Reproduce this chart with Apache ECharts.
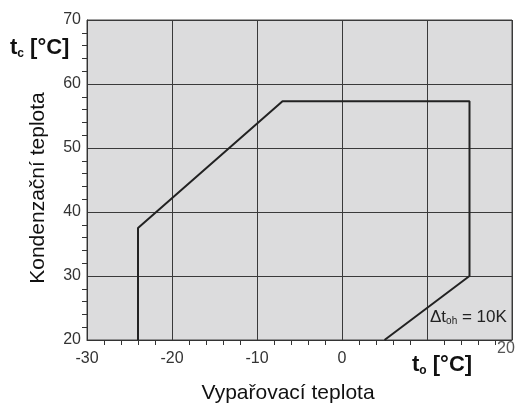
<!DOCTYPE html>
<html><head><meta charset="utf-8">
<script src="https://cdn.jsdelivr.net/npm/echarts@6/dist/echarts.min.js"></script>
<style>html,body{margin:0;padding:0;background:#fff}#c{width:521px;height:404px}</style>
</head><body><div id="c"></div>
<script>
// Envelope polygon (evaporating temp t_o, condensing temp t_c)
const envelopeTo = [-24, -24, -7, 15, 15, 5];
const envelopeTc = [20, 37.5, 57.3, 57.3, 30, 20];
const xTicks = [-30, -20, -10, 0, 10, 20];
const yTicks = [20, 30, 40, 50, 60, 70];
const xTitle = 'Vypařovací teplota';
const yTitle = 'Kondenzační teplota';

const chart = echarts.init(document.getElementById('c'));
const font = 'Liberation Sans, Arial, sans-serif';
const xMax = xTicks[xTicks.length - 1];
chart.setOption({
  animation: false,
  backgroundColor: '#fff',
  grid: {left: 87, right: 9, top: 20, bottom: 64, show: true, backgroundColor: '#dcdcdd', borderColor: '#444', borderWidth: 1},
  xAxis: {
    type: 'value', min: xTicks[0], max: xMax, interval: 10,
    axisLine: {show: true, onZero: false, lineStyle: {color: '#333'}},
    axisTick: {show: false},
    minorTick: {show: true, splitNumber: 5, length: 5, lineStyle: {color: '#333'}},
    axisLabel: {color: '#333', fontSize: 16, fontFamily: font, margin: 11, showMaxLabel: false,
      formatter: v => (v === 10 ? '' : String(v))},
    splitLine: {show: true, lineStyle: {color: '#3a3a3a', width: 1}}
  },
  yAxis: {
    type: 'value', min: yTicks[0], max: yTicks[yTicks.length - 1], interval: 10,
    axisLine: {show: true, onZero: false, lineStyle: {color: '#333'}},
    axisTick: {show: false},
    minorTick: {show: true, splitNumber: 5, length: 5, lineStyle: {color: '#333'}},
    axisLabel: {color: '#333', fontSize: 16, fontFamily: font, margin: 6, padding: [4, 0, 0, 0]},
    splitLine: {show: true, lineStyle: {color: '#3a3a3a', width: 1}}
  },
  series: [{
    type: 'line', symbol: 'none',
    data: envelopeTo.map((v, i) => [v, envelopeTc[i]]),
    lineStyle: {color: '#222', width: 2}
  }],
  graphic: [
    {type: 'text', x: 288, y: 393, style: {text: xTitle, fill: '#111', font: '21px ' + font, textAlign: 'center', textVerticalAlign: 'middle'}},
    {type: 'text', x: 38, y: 188, rotation: Math.PI / 2, style: {text: yTitle, fill: '#111', font: '21px ' + font, textAlign: 'center', textVerticalAlign: 'middle'}},
    {type: 'text', x: 506, y: 349, style: {text: String(xMax), fill: '#555', font: '16px ' + font, textAlign: 'center', textVerticalAlign: 'middle'}},
    {type: 'text', left: 10, top: 37, style: {
      rich: {a: {fontSize: 22, fontWeight: 'bold', fontFamily: font, fill: '#111'}, s: {fontSize: 12, fontWeight: 'bold', fontFamily: font, fill: '#111', padding: [11, 0, 0, 0]}},
      text: '{a|t}{s|c}{a| [°C]}'}},
    {type: 'text', left: 412, top: 354, style: {
      rich: {a: {fontSize: 22, fontWeight: 'bold', fontFamily: font, fill: '#111'}, s: {fontSize: 12, fontWeight: 'bold', fontFamily: font, fill: '#111', padding: [11, 0, 0, 0]}},
      text: '{a|t}{s|o}{a| [°C]}'}},
    {type: 'text', left: 430, top: 309, style: {
      rich: {a: {fontSize: 17, fontFamily: font, fill: '#222'}, s: {fontSize: 10, fontFamily: font, fill: '#222', padding: [8, 0, 0, 0]}},
      text: '{a|Δt}{s|oh}{a| = 10K}'}}
  ]
});
</script></body></html>
